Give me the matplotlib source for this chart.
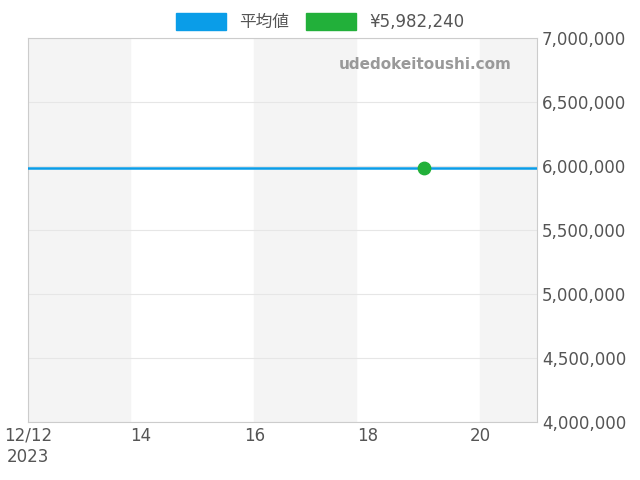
import matplotlib
matplotlib.use("Agg")
import matplotlib.pyplot as plt
from matplotlib.patches import Patch

plt.rcParams['font.family'] = ['DejaVu Sans', 'Noto Sans CJK JP']

days = [12, 13, 14, 15, 16, 17, 18, 19, 20, 21]
avg_values = [5982240] * len(days)
point_day = [19]
point_value = [5982240]
tick_days = [12, 14, 16, 18, 20]
tick_labels = ["12/12\n2023", "14", "16", "18", "20"]
bands = [(12, 13.8), (16, 17.8), (20, 21)]
yticks = [4000000, 4500000, 5000000, 5500000, 6000000, 6500000, 7000000]

fig = plt.figure(figsize=(6.4, 4.8), dpi=100)
ax = fig.add_axes([28/640, 58/480, 509/640, 384/480])
for a, b in bands:
    ax.axvspan(a, b, color='#f4f4f4', zorder=0)
ax.plot(days, avg_values, color='#0a9de8', lw=1.8, zorder=3)
ax.scatter(point_day, point_value, s=80, color='#22b03a', zorder=4)
ax.set_xlim(12, 21)
ax.set_ylim(4000000, 7000000)
ax.set_xticks(tick_days)
ax.set_xticklabels(tick_labels)
ax.set_yticks(yticks)
ax.set_yticklabels([f"{v:,}" for v in yticks])
ax.yaxis.tick_right()
ax.grid(axis='y', color='#e6e6e6', lw=0.8)
ax.tick_params(colors='#555555', labelsize=12, length=0)
for s in ax.spines.values():
    s.set_color('#cccccc')
ax.text(0.95, 0.93, "udedokeitoushi.com", transform=ax.transAxes, ha='right',
        va='center', color='#999999', fontsize=11, fontweight='bold')
handles = [Patch(color='#0a9de8', label='平均値'), Patch(color='#22b03a', label='¥5,982,240')]
fig.legend(handles=handles, loc='upper center', bbox_to_anchor=(0.5, 1.005), ncol=2,
           frameon=False, fontsize=12, handlelength=3, handleheight=1.2,
           labelcolor='#555555', columnspacing=1)
fig.savefig("out.png")
